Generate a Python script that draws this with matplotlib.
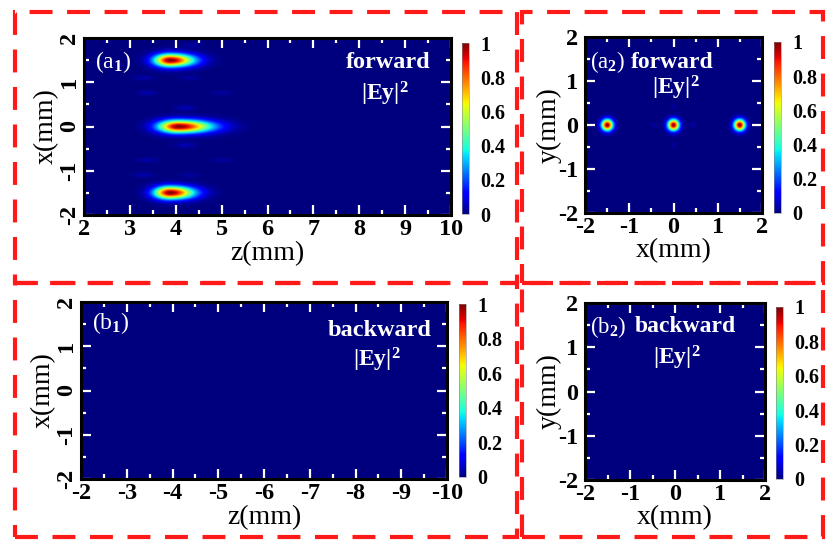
import numpy as np
import matplotlib
matplotlib.use('Agg')
import matplotlib.pyplot as plt
from matplotlib.patches import Rectangle
from matplotlib.ticker import MultipleLocator

plt.rcParams['font.family'] = 'Liberation Serif'
plt.rcParams['font.weight'] = 'bold'
plt.rcParams['mathtext.fontset'] = 'custom'
plt.rcParams['mathtext.rm'] = 'Liberation Serif'
plt.rcParams['mathtext.bf'] = 'Liberation Serif:bold'
plt.rcParams['mathtext.it'] = 'Liberation Serif:italic'
plt.rcParams['axes.unicode_minus'] = False

# forward |Ey|^2 in the x-z plane: three main spots (x, z peak, sigma left/right in z, sigma x)
spot_x = [1.5, 0.0, -1.5]
spot_z = [3.87, 4.05, 3.87]
spot_sz_left = [0.24, 0.30, 0.24]
spot_sz_right = [0.36, 0.50, 0.36]
spot_sx = [0.1, 0.1, 0.1]
spot_amp = [1.0, 1.0, 1.0]

# weak side lobes in the x-z plane
lobe_x = [1.10, 0.76, 0.42, 1.10, 0.76, 1.84, -1.10, -0.76, -0.42, -1.10, -0.76]
lobe_z = [3.29, 3.37, 4.20, 4.30, 5.00, 4.35, 3.29, 3.37, 4.20, 4.30, 5.00]
lobe_amp = [0.04, 0.04, 0.05, 0.03, 0.03, 0.03, 0.04, 0.04, 0.05, 0.03, 0.03]

# forward |Ey|^2 in the x-y plane
tspot_x = [-1.5, 0.0, 1.5]
tspot_y = [0.0, 0.0, 0.0]
tspot_amp = [1.0, 1.0, 1.0]
tlobe_x = [-0.43, 0.44, 0.0, 0.0]
tlobe_y = [0.0, 0.0, 0.42, -0.45]
tlobe_amp = [0.04, 0.04, 0.035, 0.035]

cbar_ticks = [0, 0.2, 0.4, 0.6, 0.8, 1]
cbar_labels = ['0', '0.2', '0.4', '0.6', '0.8', '1']

W, H = 826, 540


def px(l, t, r, b):
    return [l / W, 1 - b / H, (r - l) / W, (b - t) / H]


# build the fields
z = np.linspace(2, 10, 801)
x = np.linspace(-2, 2, 401)
Z, X = np.meshgrid(z, x)
fwd = np.zeros_like(Z)
for xc, zc, sl, sr, sx, a in zip(spot_x, spot_z, spot_sz_left, spot_sz_right, spot_sx, spot_amp):
    sz = np.where(Z < zc, sl, sr)
    fwd += a * np.exp(-((Z - zc) / sz) ** 2 / 2 - ((X - xc) / sx) ** 2 / 2)
for xc, zc, a in zip(lobe_x, lobe_z, lobe_amp):
    fwd += a * np.exp(-((Z - zc) / 0.15) ** 2 / 2 - ((X - xc) / 0.04) ** 2 / 2)

tx = np.linspace(-2, 2, 401)
TX, TY = np.meshgrid(tx, tx)
trans = np.zeros_like(TX)
for xc, yc, a in zip(tspot_x, tspot_y, tspot_amp):
    trans += a * np.exp(-((TX - xc) ** 2 + (TY - yc) ** 2) / (2 * 0.09 ** 2))
for xc, yc, a in zip(tlobe_x, tlobe_y, tlobe_amp):
    trans += a * np.exp(-((TX - xc) ** 2 + (TY - yc) ** 2) / (2 * 0.04 ** 2))

bwd = np.zeros((50, 100))
bwd_trans = np.zeros((50, 50))

fig = plt.figure(figsize=(W / 100, H / 100), dpi=100)


def style(ax, rot_y):
    for s in ax.spines.values():
        s.set_linewidth(2.2)
    ax.xaxis.set_major_locator(MultipleLocator(1))
    ax.xaxis.set_minor_locator(MultipleLocator(0.5))
    ax.yaxis.set_major_locator(MultipleLocator(1))
    ax.yaxis.set_minor_locator(MultipleLocator(0.5))
    ax.tick_params(which='both', direction='in', color='white', top=True, right=True,
                   labelsize=17.5, pad=3)
    ax.tick_params(which='major', length=7, width=1.6)
    ax.tick_params(which='minor', length=3.5, width=1.6)
    if rot_y:
        ax.tick_params(axis='y', labelrotation=90)
        for lab in ax.get_yticklabels():
            lab.set_va('center')
    else:
        ax.tick_params(axis='y', pad=5)


def add_cbar(im, box):
    cax = fig.add_axes(px(*box))
    cb = fig.colorbar(im, cax=cax, ticks=cbar_ticks)
    cb.ax.set_yticklabels(cbar_labels)
    cb.ax.tick_params(length=0, labelsize=14.5, pad=8)
    cb.outline.set_linewidth(0.4)
    cb.outline.set_edgecolor('#888888')


def label(xp, yp, s, ha='left', weight='bold', size=17):
    fig.text(xp / W, 1 - yp / H, s, ha=ha, va='center', color='white',
             fontsize=size, fontweight=weight)


# (a1)
ax = fig.add_axes(px(84, 38, 451, 215))
im = ax.imshow(fwd, extent=[2, 10, -2, 2], origin='lower', aspect='auto',
               cmap='jet', vmin=0, vmax=1, interpolation='bilinear')
ax.set_xlim(2, 10)
ax.set_ylim(-2, 2)
style(ax, True)
ax.set_xlabel('z(mm)', fontsize=20, fontweight='normal', labelpad=1)
ax.set_ylabel('x(mm)', fontsize=20, fontweight='normal', labelpad=0)
add_cbar(im, (462, 43, 469, 214))
label(95, 62, r'(a$_\mathrm{1}$)', weight='normal', size=17)
label(431, 62, 'forward', ha='right', size=17.5)
label(385, 94, r'$\mathbf{|Ey|^2}$', ha='center')

# (a2)
ax = fig.add_axes(px(585, 37, 762, 213))
im = ax.imshow(trans, extent=[-2, 2, -2, 2], origin='lower', aspect='auto',
               cmap='jet', vmin=0, vmax=1, interpolation='bilinear')
ax.set_xlim(-2, 2)
ax.set_ylim(-2, 2)
style(ax, False)
ax.set_xlabel('x(mm)', fontsize=20, fontweight='normal', labelpad=0)
ax.set_ylabel('y(mm)', fontsize=20, fontweight='normal', labelpad=-3)
add_cbar(im, (774, 42, 781, 213))
label(590, 62, r'(a$_\mathrm{2}$)', weight='normal', size=16.5)
label(714, 62, 'forward', ha='right')
label(676, 88, r'$\mathbf{|Ey|^2}$', ha='center')

# (b1)
ax = fig.add_axes(px(81, 302, 447, 479))
im = ax.imshow(bwd, extent=[-2, -10, -2, 2], origin='lower', aspect='auto',
               cmap='jet', vmin=0, vmax=1)
ax.set_xlim(-2, -10)
ax.set_ylim(-2, 2)
style(ax, True)
ax.set_xlabel('z(mm)', fontsize=20, fontweight='normal', labelpad=1)
ax.set_ylabel('x(mm)', fontsize=20, fontweight='normal', labelpad=0)
add_cbar(im, (459, 304, 466, 477))
label(92, 323, r'(b$_\mathrm{1}$)', weight='normal', size=17)
label(432, 331, 'backward', ha='right', size=17.5)
label(377, 360, r'$\mathbf{|Ey|^2}$', ha='center')

# (b2)
ax = fig.add_axes(px(585, 303, 765, 480))
im = ax.imshow(bwd_trans, extent=[-2, 2, -2, 2], origin='lower', aspect='auto',
               cmap='jet', vmin=0, vmax=1)
ax.set_xlim(-2, 2)
ax.set_ylim(-2, 2)
style(ax, False)
ax.set_xlabel('x(mm)', fontsize=20, fontweight='normal', labelpad=0)
ax.set_ylabel('y(mm)', fontsize=20, fontweight='normal', labelpad=-3)
add_cbar(im, (776, 307, 783, 479))
label(590, 327, r'(b$_\mathrm{2}$)', weight='normal', size=16.5)
label(736, 327, 'backward', ha='right')
label(677, 358, r'$\mathbf{|Ey|^2}$', ha='center')

# red dashed frames
for l, t, r, b in [(15, 12, 517, 283), (522, 12, 823, 283),
                   (15, 283, 517, 537), (522, 283, 823, 537)]:
    rect = Rectangle((l / W, 1 - b / H), (r - l) / W, (b - t) / H,
                     transform=fig.transFigure, fill=False, edgecolor='#ff1a1a',
                     linewidth=3, linestyle=(0, (5.5, 3.5)))
    fig.patches.append(rect)

fig.savefig('out.png', dpi=100)
